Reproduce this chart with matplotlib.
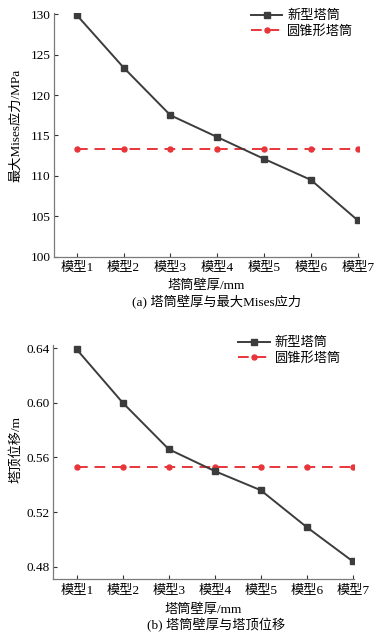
import matplotlib
matplotlib.use("Agg")
import matplotlib.pyplot as plt
import numpy as np

plt.rcParams['font.family'] = ['Liberation Serif', 'Noto Sans CJK SC']
plt.rcParams['font.size'] = 9.5
plt.rcParams['axes.unicode_minus'] = False

# data
models = ["模型1", "模型2", "模型3", "模型4", "模型5", "模型6", "模型7"]
stress_new = [129.9, 123.4, 117.5, 114.8, 112.1, 109.5, 104.5]
stress_cone = [113.3] * 7
disp_new = [0.639, 0.600, 0.566, 0.550, 0.536, 0.509, 0.484]
disp_cone = [0.553] * 7

series_names = ["新型塔筒", "圆锥形塔筒"]
stress_ticks = [100, 105, 110, 115, 120, 125, 130]
disp_ticks = [0.48, 0.52, 0.56, 0.60, 0.64]

dark = "#3c3c3c"
red = "#e8353a"
spine_c = "#7a7a7a"
fs = 9.5

fig = plt.figure(figsize=(3.79, 6.37), dpi=100)
ax1 = fig.add_axes([0.1425, 0.597, 0.8035, 0.382])
ax2 = fig.add_axes([0.1407, 0.0906, 0.7923, 0.3672])

x = np.arange(1, len(models) + 1)


def style(ax):
    for s in ["top", "right"]:
        ax.spines[s].set_visible(False)
    for s in ["left", "bottom"]:
        ax.spines[s].set_color(spine_c)
        ax.spines[s].set_linewidth(0.9)
    ax.tick_params(direction="in", length=3, width=0.8, color="#333333",
                   labelsize=fs)
    ax.tick_params(axis="x", pad=4)
    ax.tick_params(axis="y", pad=2.5)
    ax.set_xticks(x)
    ax.set_xticklabels(models)


def draw(ax, new, cone):
    ax.plot(x, new, color=dark, lw=1.4, marker="s", ms=3.8,
            label=series_names[0], zorder=3)
    ax.plot(x, cone, color=red, lw=1.4, ls=(0, (5.5, 3.5)), marker="o",
            ms=3.6, label=series_names[1], zorder=2)
    ax.legend(frameon=False, loc="upper right", fontsize=fs,
              handlelength=2.4, handletextpad=0.35, labelspacing=0.2,
              borderaxespad=0.0)


draw(ax1, stress_new, stress_cone)
style(ax1)
ax1.set_xlim(0.515, 7.017)
ax1.set_ylim(100, 130.1)
ax1.set_yticks(stress_ticks)
ax1.set_ylabel("最大Mises应力/MPa")
ax1.yaxis.set_label_coords(-0.105, 0.541)
ax1.set_xlabel("塔筒壁厚/mm", labelpad=4)
ax1.legend_.set_bbox_to_anchor((1.0, 1.035), transform=ax1.transAxes)

draw(ax2, disp_new, disp_cone)
style(ax2)
ax2.set_xlim(0.49, 7.02)
ax2.set_ylim(0.4708, 0.642)
ax2.set_yticks(disp_ticks)
ax2.set_yticklabels(["%.2f" % v for v in disp_ticks])
ax2.set_ylabel("塔顶位移/m")
ax2.yaxis.set_label_coords(-0.105, 0.553)
ax2.set_xlabel("塔筒壁厚/mm", labelpad=4.5)
ax2.legend_.set_bbox_to_anchor((0.975, 1.058), transform=ax2.transAxes)

fig.text(0.572, 1 - 302 / 637, "(a) 塔筒壁厚与最大Mises应力", ha="center",
         va="center", fontsize=fs)
fig.text(0.57, 1 - 625.5 / 637, "(b) 塔筒壁厚与塔顶位移", ha="center",
         va="center", fontsize=fs)

fig.savefig("out.png", dpi=100)
